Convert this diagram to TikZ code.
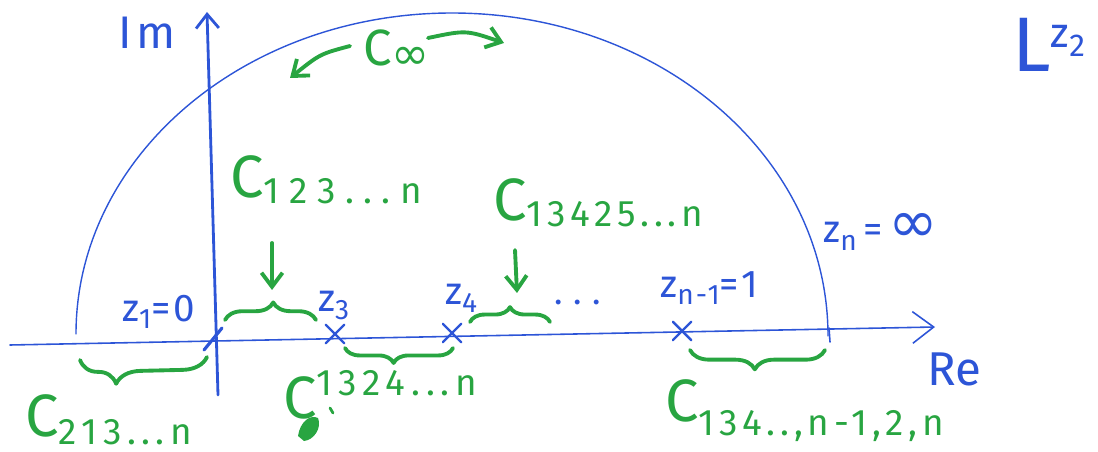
\documentclass[tikz,border=0pt]{standalone}
\usepackage{fontspec}
\setmainfont{Fira Sans}
\newfontfamily\symfont{DejaVu Sans}
\usetikzlibrary{arrows.meta,decorations.pathreplacing,shapes.misc}
\definecolor{pblue}{RGB}{45,85,215}
\definecolor{pgreen}{RGB}{40,165,65}
\newcommand{\Cbig}{\fontsize{34}{34}\selectfont}
\newcommand{\gsub}[3]{\raisebox{#1}{\fontsize{21}{21}\selectfont\addfontfeatures{LetterSpace=#2}#3}}
\newcommand{\Bsize}{\fontsize{22}{22}\selectfont\addfontfeatures{LetterSpace=8}}
\newcommand{\Bsub}[1]{\raisebox{-4pt}{\fontsize{16}{16}\selectfont #1}}
\begin{document}
\begin{tikzpicture}[x=0.02cm,y=-0.02cm,
  line cap=round, line join=round,
  axisline/.style={draw=pblue, line width=0.9pt},
  imline/.style={draw=pblue, line width=1.6pt},
  arcline/.style={draw=pblue, line width=0.8pt},
  gline/.style={draw=pgreen, line width=2.2pt},
  gbrace/.style={gline, decorate, decoration={brace, amplitude=#1}},
  garrow/.style={gline, -{Straight Barb[length=8pt,width=12pt]}},
  glabel/.style={text=pgreen, inner sep=0pt, anchor=base west},
  blabel/.style={text=pblue, inner sep=0pt, anchor=base west},
  xmark/.style={cross out, draw=pblue, line width=1.4pt, minimum size=9pt, inner sep=0pt}]
\useasboundingbox (0,0) rectangle (1098,452);

% axes
\coordinate (reS) at (10,345);
\coordinate (reE) at (935,327);
\draw[axisline, -{Straight Barb[length=12pt,width=18pt,line width=0.9pt]}] (reS) -- (reE);
\coordinate (imS) at (218,395);
\coordinate (imE) at (207,12);
\draw[imline, -{Straight Barb[length=8pt,width=13pt]}] (imS) -- (imE);

% big half circle
\coordinate (arcL) at (76,334);
\coordinate (arcT) at (452,13);
\coordinate (arcR) at (828,336);
\draw[arcline] (arcL) .. controls (76,157) and (244,13) .. (arcT)
                      .. controls (660,13) and (828,157) .. (arcR);
\draw[axisline] (829,328) -- (830,342);

% points
\draw[pblue, line width=1.8pt] (204,350) -- (222,328);
\node[xmark] (z3x) at (335,334) {};
\node[xmark] (z4x) at (452,333) {};
\node[xmark] (znx) at (682,331) {};

% blue labels
\node[blabel] (im) at (118,49) {\fontsize{26}{26}\selectfont\addfontfeatures{LetterSpace=10}Im};
\node[blabel] (re) at (927,385) {\fontsize{27}{27}\selectfont Re};
\node[blabel] (lz) at (1012,72) {\fontsize{44}{44}\selectfont L\raisebox{14pt}{\fontsize{24}{24}\selectfont z\raisebox{-5pt}{\fontsize{18}{18}\selectfont 2}}};
\node[blabel] (z1) at (122,321) {\Bsize z\Bsub{1}=0};
\node[blabel] (z3) at (318,312) {\Bsize z\Bsub{3}};
\node[blabel] (z4) at (445,305) {\Bsize z\Bsub{4}};
\node[blabel] (zn1) at (660,297) {\Bsize z\Bsub{n-1}=1};
\node[blabel] (zn) at (823,243) {\Bsize z\Bsub{n}\,=\,{\symfont\fontsize{34}{34}\selectfont ∞}};
\node[text=pblue, inner sep=0pt] (dots) at (578,302) {\fontsize{20}{20}\selectfont .\hspace{6pt}.\hspace{6pt}.};

% green labels
\node[glabel] (Cinf) at (363,66) {\fontsize{29}{29}\selectfont C\raisebox{-2pt}{\symfont\fontsize{26}{26}\selectfont ∞}};
\node[glabel] (C123) at (230,198) {{\Cbig C}\gsub{-3pt}{26}{123...n}};
\node[glabel] (C13425) at (493,221) {{\Cbig C}\gsub{-3pt}{13}{13425...n}};
\node[glabel] (C213) at (25,436) {{\Cbig C}\gsub{-5pt}{15}{213...n}};
\node[glabel] (C1324) at (283,418) {{\Cbig C}\gsub{13pt}{16}{1324...n}};
\node[glabel] (C134) at (665,421) {{\Cbig C}\gsub{-8pt}{13}{134..,n-1,2,n}};

% scribble below C^{1324}
\fill[pgreen] (298,436) .. controls (300,422) and (310,414) .. (318,418)
   .. controls (322,428) and (314,440) .. (304,441) -- cycle;
\draw[gline, line width=1.6pt] (330,408) -- (333,413);

% braces
\coordinate (b1a) at (80,360);  \coordinate (b1b) at (207,357);
\draw[gbrace=14pt, decoration={mirror, aspect=0.28}] (b1a) -- (b1b);
\coordinate (b2a) at (225,320); \coordinate (b2b) at (316,320);
\draw[gbrace=10pt, decoration={aspect=0.53}] (b2a) -- (b2b);
\coordinate (b3a) at (345,348); \coordinate (b3b) at (453,348);
\draw[gbrace=8.5pt, decoration={mirror, aspect=0.45}] (b3a) -- (b3b);
\coordinate (b4a) at (470,322); \coordinate (b4b) at (550,322);
\draw[gbrace=8.5pt, decoration={aspect=0.5}] (b4a) -- (b4b);
\coordinate (b5a) at (690,350); \coordinate (b5b) at (825,350);
\draw[gbrace=11pt, decoration={mirror, aspect=0.48}] (b5a) -- (b5b);

% arrows to braces
\coordinate (a1s) at (272,243); \coordinate (a1e) at (272,290);
\draw[garrow] (a1s) -- (a1e);
\coordinate (a2s) at (515,250); \coordinate (a2e) at (517,293);
\draw[garrow] (a2s) -- (a2e);

% C infinity arrows
\coordinate (cl) at (350,46); \coordinate (clE) at (290,78);
\draw[garrow] (cl) .. controls (320,54) .. (clE);
\coordinate (cr) at (428,38); \coordinate (crE) at (504,43);
\draw[garrow] (cr) .. controls (466,30) .. (crE);
\end{tikzpicture}
\end{document}
